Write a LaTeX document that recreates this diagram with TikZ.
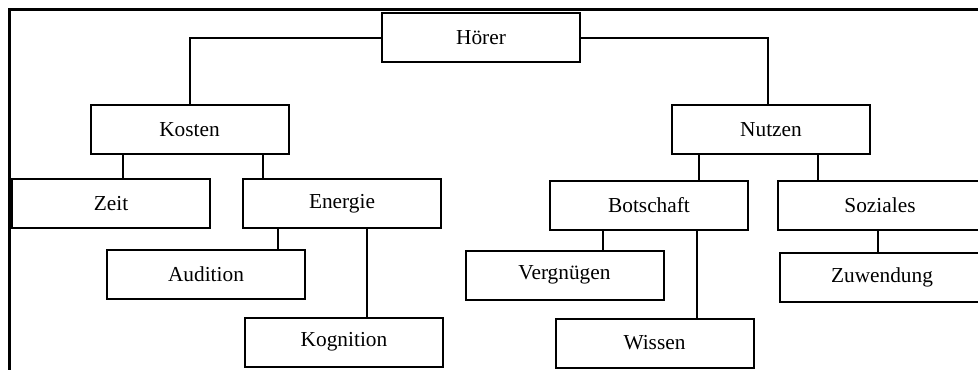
\documentclass[tikz,border=0pt]{standalone}
\usepackage{fontspec}
\setmainfont{Liberation Serif}
\begin{document}
\begin{tikzpicture}[x=0.75pt,y=-0.75pt,
  box/.style={draw, line width=1.5pt, inner sep=0pt, minimum width=198*0.75pt,
              minimum height=49*0.75pt, font=\fontsize{16}{19}\selectfont},
  wide/.style={box, minimum width=204*0.75pt},
  link/.style={line width=1.5pt},
  frame/.style={line width=2.25pt}]
\useasboundingbox (0,0) rectangle (978,369);
\clip (0,0) rectangle (978,369);

% outer frame (left and top sides)
\coordinate (fb) at (9,375);
\coordinate (fc) at (9,9);
\coordinate (fr) at (985,9);
\draw[frame] (fb) -- (fc) -- (fr);

% nodes
\node[box] (hoerer)    at (481,37.5)  {Hörer};
\node[box] (kosten)    at (189.5,129.5) {Kosten};
\node[box] (nutzen)    at (771,129.5) {Nutzen};
\node[box] (zeit)      at (111,203.5) {Zeit};
\node[box] (energie)   at (342,203.5) {Energie};
\node[box] (audition)  at (206,274.5) {Audition};
\node[box] (kognition) at (344,342)   {Kognition};
\node[box] (botschaft) at (649,205.5) {Botschaft};
\node[wide] (soziales) at (880,205)   {Soziales};
\node[box] (vergnuegen) at (564.5,275) {Vergnügen};
\node[box] (wissen)    at (654.5,343) {Wissen};
\node[wide] (zuwendung) at (882,277.5) {Zuwendung};

% connectors
\draw[link] (hoerer.west) -| (kosten.north);
\draw[link] (hoerer.east) -| ([xshift=-3*0.75pt]nutzen.north);

\draw[link] ([xshift=-66.5*0.75pt]kosten.south) -- ([xshift=12*0.75pt]zeit.north);
\draw[link] ([xshift=73.5*0.75pt]kosten.south) -- ([xshift=-79*0.75pt]energie.north);
\draw[link] ([xshift=-64*0.75pt]energie.south) -- ([xshift=72*0.75pt]audition.north);
\draw[link] ([xshift=25*0.75pt]energie.south) -- ([xshift=23*0.75pt]kognition.north);

\draw[link] ([xshift=-72*0.75pt]nutzen.south) -- ([xshift=50*0.75pt]botschaft.north);
\draw[link] ([xshift=47*0.75pt]nutzen.south) -- ([xshift=-62*0.75pt]soziales.north);
\draw[link] ([xshift=-46*0.75pt]botschaft.south) -- ([xshift=38.5*0.75pt]vergnuegen.north);
\draw[link] ([xshift=48*0.75pt]botschaft.south) -- ([xshift=42.5*0.75pt]wissen.north);
\draw[link] ([xshift=-2*0.75pt]soziales.south) -- ([xshift=-4*0.75pt]zuwendung.north);
\end{tikzpicture}
\end{document}
